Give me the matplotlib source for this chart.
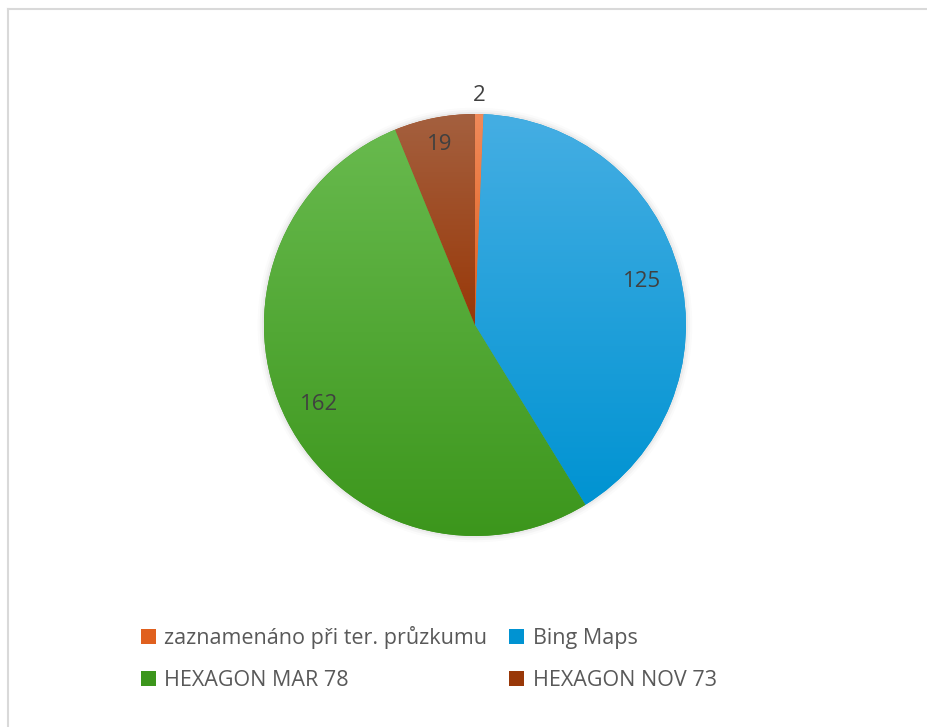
import matplotlib.pyplot as plt
import matplotlib.patches as mpatches
from matplotlib.colors import LinearSegmentedColormap
import numpy as np

plt.rcParams['font.family'] = ['Open Sans', 'DejaVu Sans']

# data
labels = ['zaznamenáno při ter. průzkumu', 'Bing Maps', 'HEXAGON MAR 78', 'HEXAGON NOV 73']
values = [2, 125, 162, 19]

# gradient colours (top, bottom) per slice
grad = [('#F08A5A', '#E0601E'),
        ('#45AEE3', '#0093D2'),
        ('#68BA4E', '#3C961C'),
        ('#A4603F', '#993808')]
label_dist = [1.09, 0.82, 0.83, 0.87]

fig = plt.figure(figsize=(9.28, 7.27), dpi=100)
ax = fig.add_axes([0.2617, 0.2337, 0.5002, 0.6385])
ax.set_xlim(-1.1, 1.1)
ax.set_ylim(-1.1, 1.1)
ax.set_aspect('equal')
ax.axis('off')

# soft shadow
for r, a in [(1.03, 0.03), (1.02, 0.05), (1.01, 0.08)]:
    ax.add_patch(mpatches.Circle((0, 0), r, color='#808080', alpha=a, lw=0, zorder=0))

wedges, _ = ax.pie(values, startangle=90, counterclock=False, radius=1,
                   colors=[g[1] for g in grad],
                   wedgeprops=dict(linewidth=0))
ax.set_xlim(-1.1, 1.1)
ax.set_ylim(-1.1, 1.1)

grad_img = np.linspace(0, 1, 256).reshape(-1, 1)
for w, (top, bot) in zip(wedges, grad):
    w.set_zorder(1)
    ext = w.get_path().get_extents()
    cmap = LinearSegmentedColormap.from_list('g', [top, bot])
    im = ax.imshow(grad_img, cmap=cmap, aspect='auto',
                   extent=[ext.x0, ext.x1, ext.y0, ext.y1], origin='upper', zorder=2)
    im.set_clip_path(w)

for w, v, d in zip(wedges, values, label_dist):
    ang = np.deg2rad((w.theta1 + w.theta2) / 2)
    ax.text(d * np.cos(ang), d * np.sin(ang), str(v), ha='center', va='center',
            fontsize=16, color='#404040', zorder=5)

# legend
order = [0, 2, 1, 3]
handles = [mpatches.Patch(facecolor=grad[i][1], edgecolor='none') for i in order]
leg = fig.legend(handles, [labels[i] for i in order], ncol=2, loc='center',
                 bbox_to_anchor=(0.462, 0.094), frameon=False,
                 fontsize=15.5, labelcolor='#595959', handlelength=0.7,
                 handleheight=0.7, handletextpad=0.4, columnspacing=1.0,
                 labelspacing=0.95)

# chart frame (only top/left edges visible)
fig.add_artist(plt.Line2D([0.0086, 0.0086], [0, 0.9876], color='#D9D9D9', lw=1.5))
fig.add_artist(plt.Line2D([0.0086, 1], [0.9876, 0.9876], color='#D9D9D9', lw=1.5))

fig.savefig('out.png', dpi=100, facecolor='white')
